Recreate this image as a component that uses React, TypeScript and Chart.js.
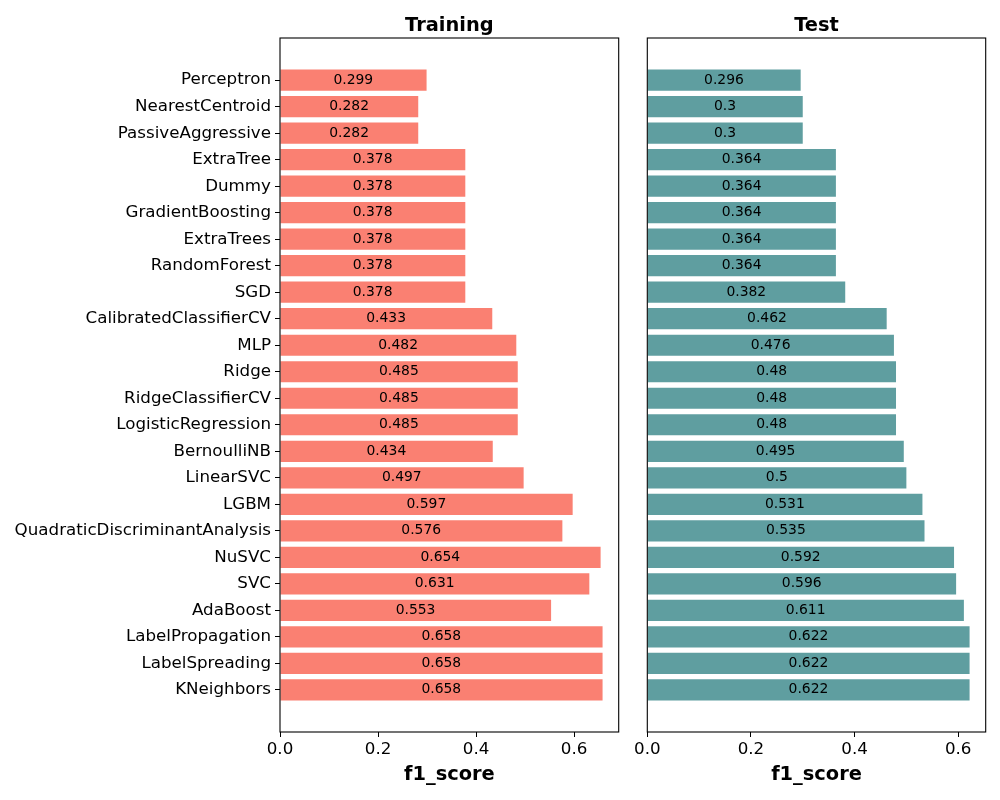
import React, { useEffect, useRef } from "react";
import { Chart, registerables } from "chart.js";

Chart.register(...registerables);

const models = [
  "Perceptron", "NearestCentroid", "PassiveAggressive", "ExtraTree", "Dummy",
  "GradientBoosting", "ExtraTrees", "RandomForest", "SGD", "CalibratedClassifierCV",
  "MLP", "Ridge", "RidgeClassifierCV", "LogisticRegression", "BernoulliNB",
  "LinearSVC", "LGBM", "QuadraticDiscriminantAnalysis", "NuSVC", "SVC",
  "AdaBoost", "LabelPropagation", "LabelSpreading", "KNeighbors",
];
const trainingF1 = [
  0.299, 0.282, 0.282, 0.378, 0.378, 0.378, 0.378, 0.378, 0.378, 0.433,
  0.482, 0.485, 0.485, 0.485, 0.434, 0.497, 0.597, 0.576, 0.654, 0.631,
  0.553, 0.658, 0.658, 0.658,
];
const testF1 = [
  0.296, 0.3, 0.3, 0.364, 0.364, 0.364, 0.364, 0.364, 0.382, 0.462,
  0.476, 0.48, 0.48, 0.48, 0.495, 0.5, 0.531, 0.535, 0.592, 0.596,
  0.611, 0.622, 0.622, 0.622,
];
const xTicks = [0, 0.2, 0.4, 0.6];

const FONT = "'DejaVu Sans', sans-serif";

function makeConfig(opts: {
  values: number[];
  color: string;
  title: string;
  showY: boolean;
  yWidth: number;
  rightPad: number;
}) {
  const { values, color, title, showY, yWidth, rightPad } = opts;
  const maxV = Math.max(...values) * 1.05;
  const n = values.length;
  const pad = (n - 1 + 0.8) * 0.05 + 0.4;
  const overlay = {
    id: "overlay",
    afterDatasetsDraw(chart: any) {
      const ctx = chart.ctx;
      const a = chart.chartArea;
      const xs = chart.scales.x;
      const ys = chart.scales.y;
      ctx.save();
      // value labels
      ctx.fillStyle = "#000";
      ctx.font = `13.9px ${FONT}`;
      ctx.textAlign = "center";
      ctx.textBaseline = "middle";
      values.forEach((v, i) => {
        ctx.fillText(String(v), xs.getPixelForValue(v / 2), ys.getPixelForValue(i));
      });
      // frame
      ctx.strokeStyle = "#000";
      ctx.lineWidth = 1.1;
      ctx.strokeRect(a.left, a.top, a.right - a.left, a.bottom - a.top);
      // title
      ctx.font = `bold 19.4px ${FONT}`;
      ctx.textBaseline = "alphabetic";
      ctx.fillText(title, (a.left + a.right) / 2, 31);
      // x label
      ctx.fillText("f1_score", (a.left + a.right) / 2, 780);
      ctx.restore();
    },
  };
  return {
    type: "bar" as const,
    data: {
      datasets: [
        {
          data: values.map((v, i) => ({ x: v, y: i })),
          backgroundColor: color,
          borderWidth: 0,
          categoryPercentage: 1,
          barPercentage: 0.8,
        },
      ],
    },
    options: {
      indexAxis: "y" as const,
      animation: false as const,
      responsive: false,
      maintainAspectRatio: false,
      layout: { padding: { top: 38, right: rightPad, left: 0, bottom: 0 } },
      plugins: { legend: { display: false }, tooltip: { enabled: false }, title: { display: false } },
      scales: {
        x: {
          type: "linear" as const,
          min: 0,
          max: maxV,
          offset: false,
          afterBuildTicks: (s: any) => {
            s.ticks = xTicks.map((v) => ({ value: v }));
          },
          afterFit: (s: any) => {
            s.height = 68;
          },
          border: { display: false },
          grid: { display: true, offset: false, drawOnChartArea: false, drawTicks: true, tickLength: 5, color: "#000", lineWidth: 1 },
          ticks: {
            color: "#000",
            font: { family: FONT, size: 16.7 },
            padding: 3,
            maxRotation: 0,
            callback: (v: any) => Number(v).toFixed(1),
          },
        },
        y: {
          type: "linear" as const,
          reverse: true,
          offset: false,
          min: -pad,
          max: n - 1 + pad,
          afterBuildTicks: (s: any) => {
            s.ticks = models.map((_, i) => ({ value: i }));
          },
          afterFit: (s: any) => {
            s.width = yWidth;
          },
          border: { display: false },
          grid: { display: showY, offset: false, drawOnChartArea: false, drawTicks: true, tickLength: 5, color: "#000", lineWidth: 1 },
          ticks: {
            display: showY,
            color: "#000",
            font: { family: FONT, size: 16.7 },
            padding: 4,
            autoSkip: false,
            callback: (v: any) => models[Math.round(Number(v))] ?? "",
          },
        },
      },
    },
    plugins: [overlay],
  };
}

function BarPanel(props: {
  values: number[];
  color: string;
  title: string;
  showY: boolean;
  left: number;
  width: number;
  yWidth: number;
  rightPad: number;
}) {
  const ref = useRef<HTMLCanvasElement | null>(null);
  useEffect(() => {
    if (!ref.current) return;
    const chart = new Chart(ref.current, makeConfig(props) as any);
    return () => chart.destroy();
  }, []);
  return (
    <canvas
      ref={ref}
      width={props.width}
      height={800}
      style={{ position: "absolute", left: props.left, top: 0, width: props.width, height: 800 }}
    />
  );
}

export default function App() {
  return (
    <div style={{ position: "fixed", left: 0, top: 0, width: 1000, height: 800, background: "#fff" }}>
      <BarPanel values={trainingF1} color="#FA8072" title="Training" showY left={0} width={630} yWidth={280} rightPad={11.3} />
      <BarPanel values={testF1} color="#5F9EA0" title="Test" showY={false} left={630} width={370} yWidth={17.3} rightPad={14.3} />
    </div>
  );
}
